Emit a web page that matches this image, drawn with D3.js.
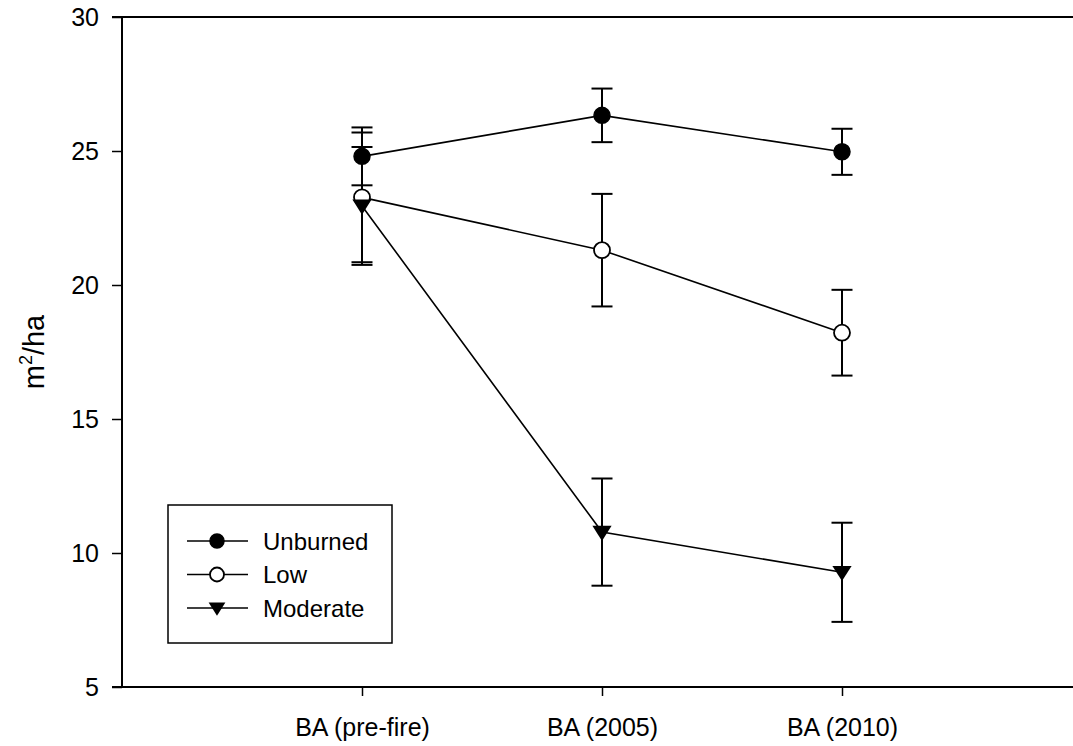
<!DOCTYPE html>
<html>
<head>
<meta charset="utf-8">
<script src="https://cdn.jsdelivr.net/npm/d3@7"></script>
<style>
  body { margin: 0; background: #fff; }
  text { font-family: "Liberation Sans", Arial, sans-serif; fill: #000; }
</style>
</head>
<body>
<div id="grafico"></div>
<script>
const categorias = ["BA (pre-fire)", "BA (2005)", "BA (2010)"];
const series = ["Unburned", "Low", "Moderate"];
const medias = {
  Unburned: [24.8, 26.33, 24.97],
  Low: [23.27, 21.3, 18.22],
  Moderate: [22.95, 10.78, 9.28]
};
const errores = {
  Unburned: [1.08, 1.0, 0.86],
  Low: [2.42, 2.1, 1.6],
  Moderate: [2.2, 2.0, 1.85]
};
const yTicks = [5, 10, 15, 20, 25, 30];

const width = 1073;
const height = 746;
const fuente = "Liberation Sans, Arial, sans-serif";

const svg = d3.select("#grafico")
  .append("svg")
  .attr("width", width)
  .attr("height", height);

// eje x: categorias en 1,2,3 sobre un dominio 0..4
const x = d3.scaleLinear().domain([0, 4]).range([122, 1082]);
const y = d3.scaleLinear().domain([5, 30]).range([687, 17]);

// linea superior
svg.append("line")
  .attr("x1", 112).attr("x2", width)
  .attr("y1", y(30)).attr("y2", y(30))
  .attr("stroke", "#000").attr("stroke-width", 2);

// eje y
const ejeY = svg.append("g")
  .attr("transform", `translate(${x(0)},0)`)
  .call(d3.axisLeft(y).tickValues(yTicks).tickSize(10).tickPadding(13));
ejeY.select(".domain").attr("stroke-width", 2).attr("d", `M0,${y(5)}V${y(30)}`);
ejeY.selectAll(".tick line").attr("stroke-width", 1.5);
ejeY.selectAll(".tick text").style("font-size", "25px").style("font-family", fuente);

// eje x
const ejeX = svg.append("g")
  .attr("transform", `translate(0,${y(5)})`)
  .call(d3.axisBottom(x).tickValues([1, 2, 3])
    .tickFormat((d) => categorias[d - 1]).tickSize(9).tickPadding(40));
ejeX.select(".domain").attr("stroke-width", 2).attr("d", `M112,0H${width + 20}`);
ejeX.selectAll(".tick line").attr("stroke-width", 1.5);
ejeX.selectAll(".tick text").style("font-size", "25px").style("font-family", fuente)
  .attr("dy", "0");

// titulo eje y
svg.append("text")
  .attr("transform", `translate(44,352) rotate(-90)`)
  .attr("text-anchor", "middle")
  .style("font-size", "29px")
  .html('m<tspan dy="-12" font-size="18px">2</tspan><tspan dy="12">/ha</tspan>');

const simbolo = {
  Unburned: (g, r) => g.append("circle").attr("r", r).attr("fill", "#000").attr("stroke", "#000").attr("stroke-width", 1.5),
  Low: (g, r) => g.append("circle").attr("r", r).attr("fill", "#fff").attr("stroke", "#000").attr("stroke-width", 1.8),
  Moderate: (g, r) => g.append("path")
    .attr("d", `M${-r * 1.2},${-r * 0.8}L${r * 1.2},${-r * 0.8}L0,${r * 1.1}Z`)
    .attr("fill", "#000")
};

const linea = d3.line().x((d, i) => x(i + 1)).y((d) => d);

// barras de error primero
series.forEach((s) => {
  const g = svg.append("g");
  medias[s].forEach((m, i) => {
    const cx = x(i + 1);
    const arriba = y(m + errores[s][i]);
    const abajo = y(m - errores[s][i]);
    g.append("line").attr("x1", cx).attr("x2", cx).attr("y1", arriba).attr("y2", abajo)
      .attr("stroke", "#000").attr("stroke-width", 2);
    [arriba, abajo].forEach((yy) => {
      g.append("line").attr("x1", cx - 10.5).attr("x2", cx + 10.5).attr("y1", yy).attr("y2", yy)
        .attr("stroke", "#000").attr("stroke-width", 2);
    });
  });
});

// lineas
series.forEach((s) => {
  svg.append("path")
    .attr("d", linea(medias[s].map((m) => y(m))))
    .attr("fill", "none").attr("stroke", "#000").attr("stroke-width", 1.6);
});

// puntos
series.forEach((s) => {
  medias[s].forEach((m, i) => {
    const g = svg.append("g").attr("transform", `translate(${x(i + 1)},${y(m)})`);
    simbolo[s](g, 8);
  });
});

// leyenda
const leyenda = svg.append("g");
leyenda.append("rect")
  .attr("x", 168).attr("y", 505).attr("width", 224).attr("height", 138)
  .attr("fill", "#fff").attr("stroke", "#000").attr("stroke-width", 1.5);
series.forEach((s, i) => {
  const yy = 541 + i * 33.5;
  leyenda.append("line").attr("x1", 187).attr("x2", 248).attr("y1", yy).attr("y2", yy)
    .attr("stroke", "#000").attr("stroke-width", 1.6);
  const g = leyenda.append("g").attr("transform", `translate(217,${yy})`);
  simbolo[s](g, 7);
  leyenda.append("text").attr("x", 263).attr("y", yy + 8.5)
    .style("font-size", "24px").text(s);
});
</script>
</body>
</html>
